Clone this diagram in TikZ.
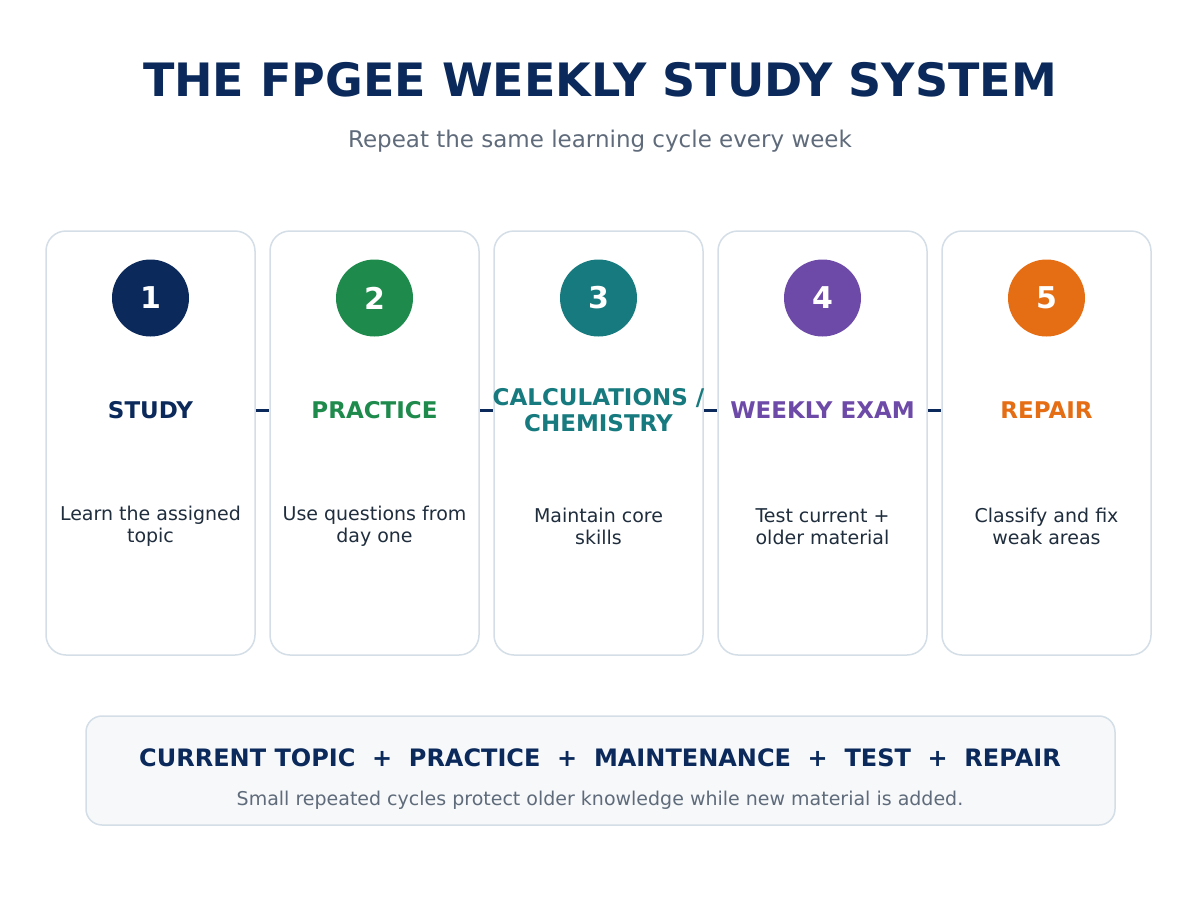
\documentclass[tikz,border=0pt]{standalone}
\usepackage{fontspec}
\setmainfont{DejaVu Sans}
\definecolor{navy}{HTML}{0B2A5B}
\definecolor{cgreen}{HTML}{1E8A4C}
\definecolor{cteal}{HTML}{167A7E}
\definecolor{cpurple}{HTML}{6E4AA8}
\definecolor{corange}{HTML}{E56E14}
\definecolor{cardline}{HTML}{D4DEE7}
\definecolor{subgray}{HTML}{5F6B7A}
\definecolor{desc}{HTML}{1F2D3D}
\definecolor{boxfill}{HTML}{F6F8FA}
\tikzset{
  card/.style={draw=cardline, line width=1.5pt, rounded corners=20pt, fill=white, minimum width=209pt, minimum height=424pt, inner sep=0pt},
  numcirc/.style={circle, minimum size=77pt, inner sep=0pt, text=white, font=\fontsize{30}{34}\selectfont\bfseries},
  stitle/.style={font=\fontsize{23}{26}\selectfont\bfseries, align=center, inner sep=0pt},
  sdesc/.style={font=\fontsize{19}{22}\selectfont, text=desc, align=center, inner sep=0pt},
  link/.style={draw=navy, line width=3pt},
}
\begin{document}
\begin{tikzpicture}[x=1pt,y=-1pt]
\useasboundingbox (0,0) rectangle (1200,900);
\fill[white] (0,0) rectangle (1200,900);
\node[font=\fontsize{46}{56}\selectfont\bfseries, text=navy, inner sep=0pt] (title) at (600,80) {THE FPGEE WEEKLY STUDY SYSTEM};
\node[font=\fontsize{23}{28}\selectfont, text=subgray, inner sep=0pt] (subtitle) at (600,141) {Repeat the same learning cycle every week};

\foreach \i/\cx/\col/\num in {1/150.5/navy/1, 2/374.5/cgreen/2, 3/598.5/cteal/3, 4/822.5/cpurple/4, 5/1046.5/corange/5}{
  \node[card] (c\i) at (\cx,443) {};
  \node[numcirc, fill=\col] (n\i) at (\cx,298) {\num};
}
\node[stitle, text=navy] (t1) at (150.5,410) {STUDY};
\node[stitle, text=cgreen] (t2) at (374.5,410) {PRACTICE};
\node[stitle, text=cteal] (t3) at (598.5,410) {CALCULATIONS /\\CHEMISTRY};
\node[stitle, text=cpurple] (t4) at (822.5,410) {WEEKLY EXAM};
\node[stitle, text=corange] (t5) at (1046.5,410) {REPAIR};

\node[sdesc] (d1) at (150.5,526) {Learn the assigned\\topic};
\node[sdesc] (d2) at (374.5,526) {Use questions from\\day one};
\node[sdesc] (d3) at (598.5,526.5) {Maintain core\\skills};
\node[sdesc] (d4) at (822.5,526.5) {Test current +\\older material};
\node[sdesc] (d5) at (1046.5,526.5) {Classify and fix\\weak areas};

\draw[link] (c1.east |- t1.center) -- (c2.west |- t1.center);
\draw[link] (c2.east |- t1.center) -- (c3.west |- t1.center);
\draw[link] (c3.east |- t1.center) -- (c4.west |- t1.center);
\draw[link] (c4.east |- t1.center) -- (c5.west |- t1.center);

\node[draw=cardline, line width=1.5pt, fill=boxfill, rounded corners=16pt, minimum width=1029pt, minimum height=109pt, inner sep=0pt] (sum) at (600.5,770.5) {};
\node[font=\fontsize{24}{28}\selectfont\bfseries, text=navy, inner sep=0pt] (formula) at (600,758) {CURRENT TOPIC\ \ +\ \ PRACTICE\ \ +\ \ MAINTENANCE\ \ +\ \ TEST\ \ +\ \ REPAIR};
\node[font=\fontsize{19}{23}\selectfont, text=subgray, inner sep=0pt] (note) at (600,800) {Small repeated cycles protect older knowledge while new material is added.};
\end{tikzpicture}
\end{document}
